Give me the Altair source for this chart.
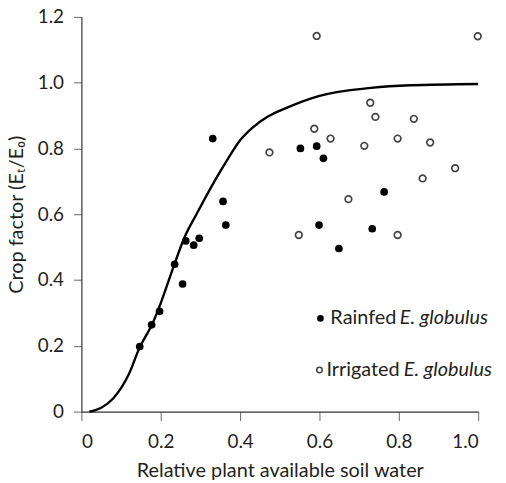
import altair as alt
import pandas as pd

FONT = "Lato"

# Rainfed E. globulus (filled)
rain_x = [0.147, 0.177, 0.197, 0.235, 0.255, 0.263, 0.283, 0.297, 0.331, 0.357,
          0.364, 0.552, 0.593, 0.610, 0.599, 0.649, 0.733, 0.763]
rain_y = [0.198, 0.264, 0.305, 0.448, 0.388, 0.519, 0.506, 0.527, 0.830, 0.639,
          0.567, 0.800, 0.807, 0.770, 0.567, 0.496, 0.556, 0.668]

# Irrigated E. globulus (open)
irr_x = [0.474, 0.548, 0.587, 0.593, 0.628, 0.673, 0.713, 0.728, 0.741, 0.797,
         0.797, 0.838, 0.860, 0.879, 0.942, 0.999]
irr_y = [0.788, 0.537, 0.860, 1.142, 0.830, 0.646, 0.808, 0.939, 0.896, 0.830,
         0.537, 0.890, 0.709, 0.818, 0.740, 1.141]

# Fitted curve
curve_x = [0.02, 0.05, 0.08, 0.12, 0.145, 0.18, 0.20, 0.235, 0.26, 0.29, 0.34,
           0.37, 0.40, 0.43, 0.47, 0.52, 0.60, 0.73, 0.83, 1.00]
curve_y = [0.0, 0.012, 0.04, 0.115, 0.19, 0.27, 0.33, 0.45, 0.53, 0.60, 0.71,
           0.77, 0.825, 0.862, 0.897, 0.925, 0.96, 0.984, 0.992, 0.996]

x_ticks = [0, 0.2, 0.4, 0.6, 0.8, 1.0]
y_ticks = [0, 0.2, 0.4, 0.6, 0.8, 1.0, 1.2]

legend_names = ["Rainfed", "Irrigated"]
species = "E. globulus"

rain = pd.DataFrame({"x": rain_x, "y": rain_y})
irr = pd.DataFrame({"x": irr_x, "y": irr_y})
curve = pd.DataFrame({"x": curve_x, "y": curve_y})

lab = "datum.value == 0 ? '0' : format(datum.value, '.1f')"
xs = alt.Scale(domain=[0, 1], nice=False, zero=False)
ys = alt.Scale(domain=[0, 1.2], nice=False, zero=False)
xax = alt.Axis(values=x_ticks, labelExpr=lab, grid=False, tickSize=9,
               labelPadding=27, labelBaseline="alphabetic",
               title="Relative plant available soil water",
               titleY=65, titleBaseline="alphabetic")
yax = alt.Axis(values=y_ticks, labelExpr=lab, grid=False, tickSize=8,
               labelPadding=10, title="Crop factor (Eₜ/E₀)", titleX=-59,
               titleBaseline="alphabetic")

X = alt.X("x:Q", scale=xs, axis=xax)
Y = alt.Y("y:Q", scale=ys, axis=yax)

line = alt.Chart(curve).mark_line(color="#000", strokeWidth=2.4, interpolate="monotone").encode(x=X, y=Y)
pts_irr = alt.Chart(irr).mark_point(shape="circle", filled=False, size=45, stroke="#444",
                                     strokeWidth=1.7, opacity=1).encode(x=X, y=Y)
pts_rain = alt.Chart(rain).mark_point(shape="circle", filled=True, size=60, color="#000",
                                      opacity=1).encode(x=X, y=Y)

# Legend (plot-area pixel offsets)
leg_df = pd.DataFrame({"name": legend_names, "sp": [species, species]})
txt = dict(baseline="middle", fontSize=20, font=FONT, color="#231f20")
leg_dot1 = alt.Chart(leg_df.iloc[[0]]).mark_point(shape="circle", filled=True, size=45, color="#000",
                                                  opacity=1).encode(x=alt.value(241), y=alt.value(304))
leg_dot2 = alt.Chart(leg_df.iloc[[1]]).mark_point(shape="circle", filled=False, size=30, stroke="#444",
                                                  strokeWidth=1.5, opacity=1).encode(x=alt.value(240), y=alt.value(356))
leg_t1 = alt.Chart(leg_df.iloc[[0]]).mark_text(align="left", **txt).encode(
    x=alt.value(251), y=alt.value(304), text="name:N")
leg_s1 = alt.Chart(leg_df.iloc[[0]]).mark_text(align="left", fontStyle="italic", **txt).encode(
    x=alt.value(321), y=alt.value(304), text="sp:N")
leg_t2 = alt.Chart(leg_df.iloc[[1]]).mark_text(align="left", **txt).encode(
    x=alt.value(247), y=alt.value(356), text="name:N")
leg_s2 = alt.Chart(leg_df.iloc[[1]]).mark_text(align="left", fontStyle="italic", **txt).encode(
    x=alt.value(325), y=alt.value(356), text="sp:N")

chart = alt.layer(line, pts_irr, pts_rain, leg_dot1, leg_dot2, leg_t1, leg_s1, leg_t2, leg_s2).properties(
    width=400, height=398,
    autosize=alt.AutoSizeParams(type="none"),
    padding={"left": 74, "top": 7, "right": 20, "bottom": 70},
).configure_view(stroke=None).configure_axis(
    labelFont=FONT, titleFont=FONT, labelFontSize=19, titleFontSize=20,
    labelColor="#231f20", titleColor="#231f20", titleFontWeight="normal",
    domainColor="#333", domainWidth=1.2, tickColor="#666", tickWidth=1,
)

chart.save("out.html", embed_options={"renderer": "svg", "actions": False})
